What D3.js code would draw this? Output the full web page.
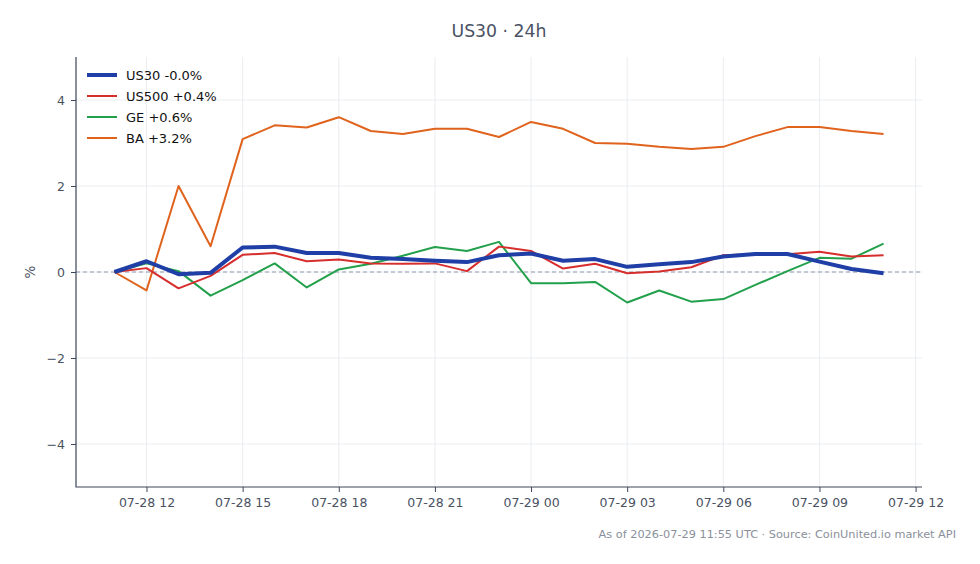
<!DOCTYPE html>
<html>
<head>
<meta charset="utf-8">
<script src="https://cdn.jsdelivr.net/npm/d3@7"></script>
<style>
  body { margin: 0; background: #fff; }
  svg { font-family: "DejaVu Sans", sans-serif; }
</style>
</head>
<body>
<script>
// hourly closes, % change from first point
var times = [];
for (var h = 0; h <= 24; h++) {
    times.push(new Date(Date.UTC(2026, 6, 28, 11 + h)));
}

var us30  = [0, 0.25, -0.05, -0.02, 0.57, 0.59, 0.44, 0.44, 0.33, 0.30, 0.26, 0.23, 0.39, 0.43, 0.26, 0.30, 0.12, 0.18, 0.23, 0.36, 0.42, 0.42, 0.24, 0.07, -0.03];
var us500 = [0, 0.09, -0.38, -0.09, 0.40, 0.44, 0.25, 0.29, 0.20, 0.19, 0.20, 0.02, 0.59, 0.49, 0.08, 0.19, -0.03, 0.01, 0.11, 0.39, 0.41, 0.41, 0.47, 0.36, 0.39];
var ge    = [0, 0.20, 0.02, -0.55, -0.19, 0.20, -0.36, 0.06, 0.19, 0.38, 0.58, 0.49, 0.70, -0.26, -0.26, -0.23, -0.71, -0.43, -0.69, -0.63, -0.30, 0.02, 0.33, 0.31, 0.66];
var ba    = [0, -0.43, 2.0, 0.6, 3.09, 3.41, 3.36, 3.60, 3.28, 3.21, 3.33, 3.33, 3.14, 3.49, 3.33, 3.00, 2.98, 2.91, 2.86, 2.91, 3.16, 3.37, 3.37, 3.28, 3.21];

var seriesNames = ["US30 -0.0%", "US500 +0.4%", "GE +0.6%", "BA +3.2%"];
var seriesColors = ["#1f3fa6", "#d62d2d", "#22a04b", "#e0631d"];
var seriesData = [us30, us500, ge, ba];
var yTicks = [-4, -2, 0, 2, 4];

var width = 980, height = 564;
var margin = {left: 76, right: 58, top: 57, bottom: 77};

var svg = d3.select("body").append("svg")
    .attr("width", width)
    .attr("height", height);

var pad = 1.2 * 3600 * 1000;
var x = d3.scaleUtc()
    .domain([new Date(+times[0] - pad), new Date(+times[24] + pad)])
    .range([margin.left, width - margin.right]);

var y = d3.scaleLinear()
    .domain([-5, 5])
    .range([height - margin.bottom, margin.top]);

var xTicks = d3.utcHour.every(3).range(new Date(Date.UTC(2026, 6, 28, 12)), new Date(Date.UTC(2026, 6, 29, 13)));
var fmt = d3.utcFormat("%m-%d %H");

// grid
svg.append("g").selectAll("line")
    .data(xTicks)
    .enter().append("line")
    .attr("x1", function(d) { return x(d); })
    .attr("x2", function(d) { return x(d); })
    .attr("y1", y(5))
    .attr("y2", y(-5))
    .attr("stroke", "#e6e8ec")
    .attr("stroke-width", 0.8);

svg.append("g").selectAll("line")
    .data(yTicks)
    .enter().append("line")
    .attr("x1", margin.left)
    .attr("x2", width - margin.right)
    .attr("y1", function(d) { return y(d); })
    .attr("y2", function(d) { return y(d); })
    .attr("stroke", "#e6e8ec")
    .attr("stroke-width", 0.8);

// zero line
svg.append("line")
    .attr("x1", margin.left)
    .attr("x2", width - margin.right)
    .attr("y1", y(0))
    .attr("y2", y(0))
    .attr("stroke", "#8e9ab0")
    .attr("stroke-width", 1)
    .attr("stroke-dasharray", "4,3");

// axes
var xAxis = svg.append("g")
    .attr("transform", "translate(0," + y(-5) + ")")
    .call(d3.axisBottom(x).tickValues(xTicks).tickFormat(fmt).tickSizeOuter(0).tickSize(5).tickPadding(6));

var yAxis = svg.append("g")
    .attr("transform", "translate(" + margin.left + ",0)")
    .call(d3.axisLeft(y).tickValues(yTicks).tickFormat(function(d) { return d < 0 ? "\u2212" + Math.abs(d) : d; }).tickSizeOuter(0).tickSize(5).tickPadding(6));

[xAxis, yAxis].forEach(function(a) {
    a.select(".domain").remove();
    a.selectAll(".tick line").attr("stroke", "#3d4658");
    a.selectAll(".tick text")
        .attr("fill", "#4a5263")
        .style("font-size", "12.5px")
        .style("font-family", "DejaVu Sans");
});

// spines (left + bottom only)
svg.append("path")
    .attr("d", "M" + margin.left + "," + y(5) + "V" + y(-5) + "H" + (width - margin.right))
    .attr("fill", "none")
    .attr("stroke", "#3d4658")
    .attr("stroke-width", 1.2);

svg.append("text")
    .attr("transform", "translate(35," + y(0) + ") rotate(-90)")
    .attr("text-anchor", "middle")
    .attr("fill", "#4a5263")
    .style("font-size", "13.5px")
    .text("%");

// lines (US30 drawn last so it sits on top)
var line = d3.line()
    .x(function(d, i) { return x(times[i]); })
    .y(function(d) { return y(d); });

[3, 2, 1, 0].forEach(function(k) {
    svg.append("path")
        .datum(seriesData[k])
        .attr("d", line)
        .attr("fill", "none")
        .attr("stroke", seriesColors[k])
        .attr("stroke-width", k === 0 ? 4 : 2)
        .attr("stroke-linejoin", "round");
});

// legend
var legend = svg.append("g");
seriesNames.forEach(function(name, i) {
    var ly = 75 + i * 21;
    legend.append("line")
        .attr("x1", 87).attr("x2", 117)
        .attr("y1", ly).attr("y2", ly)
        .attr("stroke", seriesColors[i])
        .attr("stroke-width", i === 0 ? 4 : 2);
    legend.append("text")
        .attr("x", 126)
        .attr("y", ly + 4.5)
        .attr("fill", "#111")
        .style("font-size", "13px")
        .text(name);
});

// title + footer
svg.append("text")
    .attr("x", (margin.left + width - margin.right) / 2)
    .attr("y", 37)
    .attr("text-anchor", "middle")
    .attr("fill", "#4a5263")
    .style("font-size", "17.3px")
    .text("US30 \u00b7 24h");

svg.append("text")
    .attr("x", 956)
    .attr("y", 538)
    .attr("text-anchor", "end")
    .attr("fill", "#8a909b")
    .style("font-size", "11.3px")
    .text("As of 2026-07-29 11:55 UTC \u00b7 Source: CoinUnited.io market API");
</script>
</body>
</html>
